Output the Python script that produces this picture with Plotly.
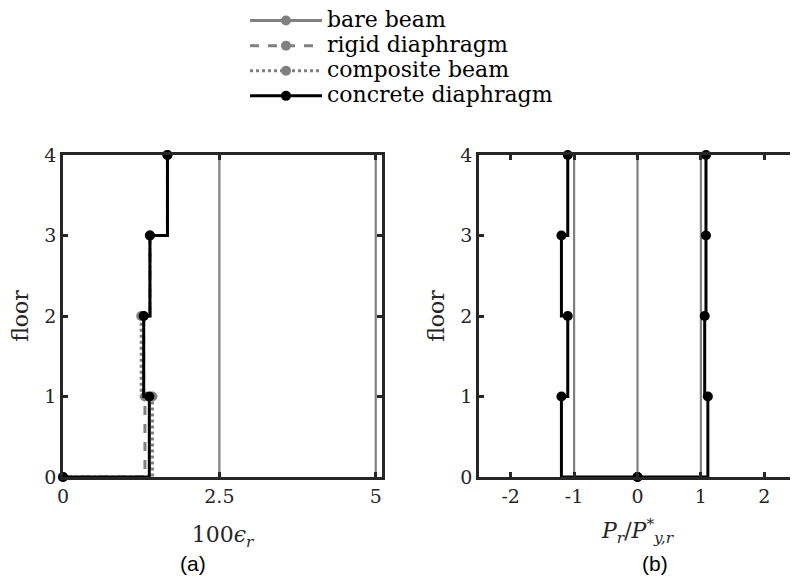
import plotly.graph_objects as go

# данные
floors = [0, 1, 2, 3, 4]

# панель (a): 100*eps_r по этажам
rigid_a = [0, 1.31, 1.29, 1.39, 1.67]
composite_a = [0, 1.43, 1.25, 1.39, 1.67]
concrete_a = [0, 1.38, 1.29, 1.39, 1.67]
ref_a = [2.5, 5.0]

# панель (b): P_r / P*_y,r по этажам
concrete_b_neg = [0, -1.20, -1.10, -1.20, -1.10]
concrete_b_pos = [0, 1.11, 1.06, 1.08, 1.08]
ref_b = [-1, 0, 1]

xticks_a = [0, 2.5, 5]
xlabels_a = ["0", "2.5", "5"]
xticks_b = [-2, -1, 0, 1, 2]
xlabels_b = ["-2", "-1", "0", "1", "2"]

GRAY = "#808080"
BLACK = "#000000"
AXIS = "#262626"
SERIF = "DejaVu Serif"

# страница имеет отступ body 8px, поэтому фигура чуть меньше окна
OFF = 8
W, H = 798 - OFF, 578 - OFF


def px(x):
    return (x - OFF) / W


def py(y):
    return (H - (y - OFF)) / H


def big(s):
    # крупный текст в легенде при плотном шаге строк
    return '<span style="font-size:22px">' + s + "</span>"


fig = go.Figure()

# опорные вертикальные линии
for v in ref_a:
    fig.add_trace(go.Scatter(x=[v, v], y=[floors[0], floors[-1]], mode="lines",
                             line=dict(color=GRAY, width=2.2), showlegend=False,
                             xaxis="x", yaxis="y"))
for v in ref_b:
    fig.add_trace(go.Scatter(x=[v, v], y=[floors[0], floors[-1]], mode="lines",
                             line=dict(color=GRAY, width=2.2), showlegend=False,
                             xaxis="x2", yaxis="y2"))

# элементы легенды и серии
fig.add_trace(go.Scatter(x=[None], y=[None], mode="lines+markers", name=big("bare beam"),
                         line=dict(color=GRAY, width=3),
                         marker=dict(color=GRAY, size=10)))

fig.add_trace(go.Scatter(x=rigid_a, y=floors, mode="lines+markers", name=big("rigid diaphragm"),
                         line=dict(color=GRAY, width=3, dash="dash", shape="hv"),
                         marker=dict(color=GRAY, size=10), cliponaxis=False,
                         xaxis="x", yaxis="y"))
fig.add_trace(go.Scatter(x=composite_a, y=floors, mode="lines+markers", name=big("composite beam"),
                         line=dict(color=GRAY, width=3, dash="dot", shape="hv"),
                         marker=dict(color=GRAY, size=10), cliponaxis=False,
                         xaxis="x", yaxis="y"))
fig.add_trace(go.Scatter(x=concrete_a, y=floors, mode="lines+markers", name=big("concrete diaphragm"),
                         line=dict(color=BLACK, width=3, shape="hv"),
                         marker=dict(color=BLACK, size=10), cliponaxis=False,
                         xaxis="x", yaxis="y"))

for xs in (concrete_b_neg, concrete_b_pos):
    fig.add_trace(go.Scatter(x=xs, y=floors, mode="lines+markers", showlegend=False,
                             line=dict(color=BLACK, width=3, shape="hv"),
                             marker=dict(color=BLACK, size=10), cliponaxis=False,
                             xaxis="x2", yaxis="y2"))

axis_common = dict(
    automargin=False,
    showgrid=False,
    zeroline=False,
    showline=True,
    linecolor=AXIS,
    linewidth=2.5,
    mirror="ticks",
    ticks="inside",
    ticklen=5,
    tickwidth=2.5,
    tickcolor=AXIS,
    tickfont=dict(family=SERIF, size=19, color=AXIS),
)
title_font = dict(family=SERIF, size=22, color=AXIS)

ydom = [py(477), py(155)]

fig.update_layout(
    width=W,
    height=H,
    margin=dict(l=0, r=0, t=0, b=0, autoexpand=False),
    paper_bgcolor="white",
    plot_bgcolor="white",
    showlegend=True,
    legend=dict(
        x=px(245), y=py(3), xanchor="left", yanchor="top",
        font=dict(family=SERIF, size=17, color=BLACK),
        itemwidth=72,
        bgcolor="rgba(0,0,0,0)",
    ),
    xaxis=dict(domain=[px(63), px(382)], range=[0, 5.1], tickvals=xticks_a,
               ticktext=xlabels_a, anchor="y",
               title=dict(text="100<i>ϵ</i><sub><i>r</i></sub>", font=title_font, standoff=22),
               **axis_common),
    yaxis=dict(domain=ydom, range=[0, 4], dtick=1, anchor="x",
               title=dict(text="floor", font=title_font, standoff=12),
               **axis_common),
    xaxis2=dict(domain=[px(479), px(796)], range=[-2.5, 2.5], tickvals=xticks_b,
                ticktext=xlabels_b, anchor="y2",
                title=dict(text="<i>P</i><sub><i>r</i></sub>/<i>P</i><sup>*</sup><sub><i>y,r</i></sub>",
                           font=title_font, standoff=18),
                **axis_common),
    yaxis2=dict(domain=ydom, range=[0, 4], dtick=1, anchor="x2",
                title=dict(text="floor", font=title_font, standoff=10),
                **axis_common),
    annotations=[
        dict(text="(a)", x=px(193), y=py(563), xref="paper", yref="paper",
             xanchor="center", yanchor="middle", showarrow=False,
             font=dict(family="Liberation Sans", size=21, color=BLACK)),
        dict(text="(b)", x=px(655), y=py(563), xref="paper", yref="paper",
             xanchor="center", yanchor="middle", showarrow=False,
             font=dict(family="Liberation Sans", size=21, color=BLACK)),
    ],
)

fig.write_html("out.html")
